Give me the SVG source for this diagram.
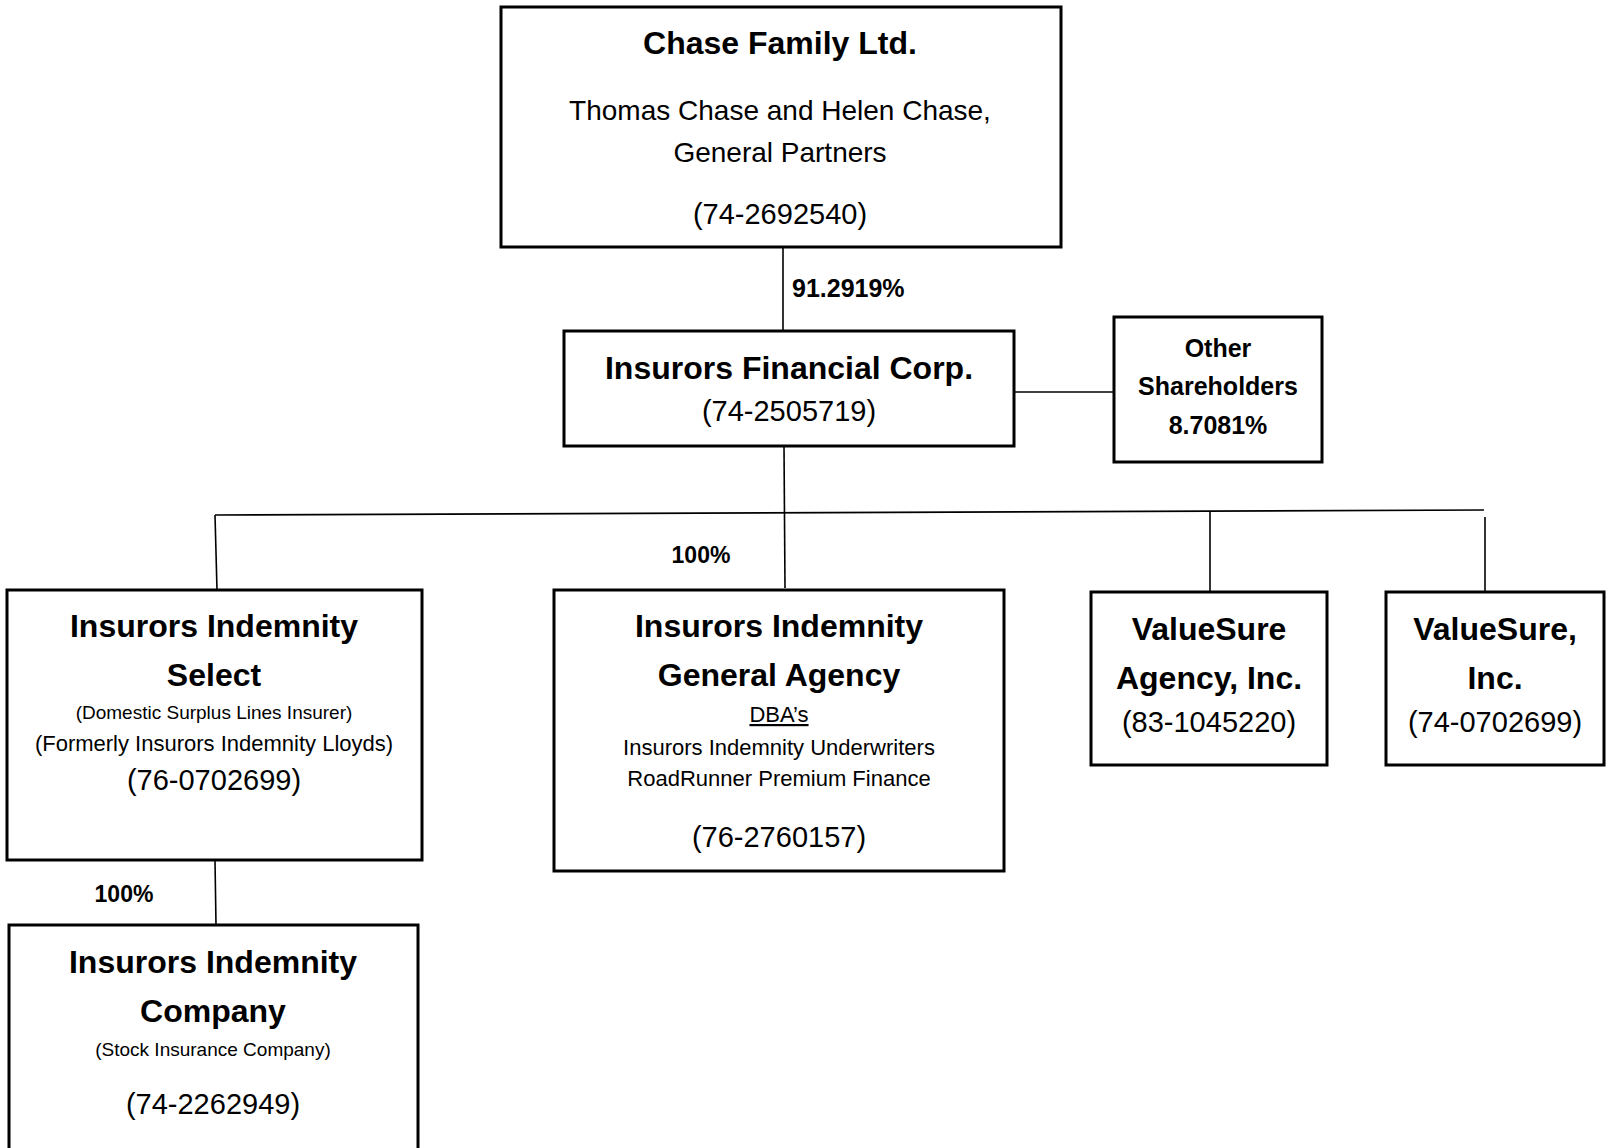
<svg xmlns="http://www.w3.org/2000/svg" width="1606" height="1148" viewBox="0 0 1606 1148">
<style>
.box{fill:#fff;stroke:#000;stroke-width:3}
.ln{stroke:#000;stroke-width:1.6;fill:none}
text{font-family:"Liberation Sans",Arial,sans-serif;fill:#000;text-anchor:middle}
.t{font-weight:bold;font-size:32px}
.id{font-size:29px}
.sub{font-size:28px}
.sm{font-size:22px}
.xs{font-size:19px}
.pct{font-weight:bold;font-size:23px}
.os{font-weight:bold;font-size:25px}
</style>
<rect width="1606" height="1148" fill="#fff"/>
<g id="connectors">
<line class="ln" x1="783" y1="247" x2="783" y2="331"/>
<line class="ln" x1="1014" y1="392" x2="1114" y2="392"/>
<line class="ln" x1="784" y1="446" x2="785" y2="588"/>
<line class="ln" x1="215" y1="515" x2="1484" y2="510"/>
<line class="ln" x1="215" y1="515" x2="217" y2="590"/>
<line class="ln" x1="1210" y1="512" x2="1210" y2="592"/>
<line class="ln" x1="1485" y1="517" x2="1485" y2="594"/>
<line class="ln" x1="215" y1="860" x2="216" y2="925"/>
<text class="pct" x="792" y="297" style="text-anchor:start;font-size:25px">91.2919%</text>
<text class="pct" x="701" y="563">100%</text>
<text class="pct" x="124" y="902">100%</text>
</g>
<g id="chase">
<rect class="box" x="501" y="7" width="560" height="240"/>
<text class="t" x="780" y="54">Chase Family Ltd.</text>
<text class="sub" x="780" y="120">Thomas Chase and Helen Chase,</text>
<text class="sub" x="780" y="162">General Partners</text>
<text class="id" x="780" y="224">(74-2692540)</text>
</g>
<g id="ifc">
<rect class="box" x="564" y="331" width="450" height="115"/>
<text class="t" x="789" y="379">Insurors Financial Corp.</text>
<text class="id" x="789" y="421">(74-2505719)</text>
</g>
<g id="other">
<rect class="box" x="1114" y="317" width="208" height="145"/>
<text class="os" x="1218" y="357">Other</text>
<text class="os" x="1218" y="395">Shareholders</text>
<text class="os" x="1218" y="434">8.7081%</text>
</g>
<g id="select">
<rect class="box" x="7" y="590" width="415" height="270"/>
<text class="t" x="214" y="637">Insurors Indemnity</text>
<text class="t" x="214" y="686">Select</text>
<text class="xs" x="214" y="719">(Domestic Surplus Lines Insurer)</text>
<text class="sm" x="214" y="751">(Formerly Insurors Indemnity Lloyds)</text>
<text class="id" x="214" y="790">(76-0702699)</text>
</g>
<g id="company">
<rect class="box" x="9" y="925" width="409" height="240"/>
<text class="t" x="213" y="973">Insurors Indemnity</text>
<text class="t" x="213" y="1022">Company</text>
<text class="xs" x="213" y="1056">(Stock Insurance Company)</text>
<text class="id" x="213" y="1114">(74-2262949)</text>
</g>
<g id="iiga">
<rect class="box" x="554" y="590" width="450" height="281"/>
<text class="t" x="779" y="637">Insurors Indemnity</text>
<text class="t" x="779" y="686">General Agency</text>
<text class="sm" x="779" y="722" text-decoration="underline">DBA’s</text>
<text class="sm" x="779" y="755">Insurors Indemnity Underwriters</text>
<text class="sm" x="779" y="786">RoadRunner Premium Finance</text>
<text class="id" x="779" y="847">(76-2760157)</text>
</g>
<g id="vsagency">
<rect class="box" x="1091" y="592" width="236" height="173"/>
<text class="t" x="1209" y="640">ValueSure</text>
<text class="t" x="1209" y="689">Agency, Inc.</text>
<text class="id" x="1209" y="732">(83-1045220)</text>
</g>
<g id="vsinc">
<rect class="box" x="1386" y="592" width="218" height="173"/>
<text class="t" x="1495" y="640">ValueSure,</text>
<text class="t" x="1495" y="689">Inc.</text>
<text class="id" x="1495" y="732">(74-0702699)</text>
</g>
</svg>
